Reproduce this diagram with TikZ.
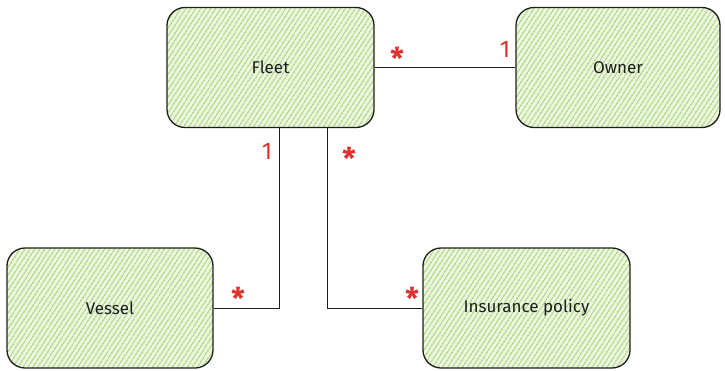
\documentclass[tikz,border=0pt]{standalone}
\usepackage{fontspec}
\setmainfont{Fira Sans}
\usetikzlibrary{patterns.meta}

\definecolor{hatchgreen}{HTML}{B9DD8E}
\definecolor{paleg}{HTML}{EDF6E1}
\definecolor{multred}{HTML}{E03131}
\definecolor{ink}{HTML}{1E1E1E}

\tikzset{
	entity/.style={draw=ink, line width=1.3pt, rounded corners=18pt,
		minimum height=120pt, text=ink, font=\fontsize{17}{19}\selectfont,
		preaction={fill=paleg},
		pattern={Lines[angle=57,distance=4pt,line width=1.6pt]}, pattern color=hatchgreen},
	multlabel/.style={text=multred, inner sep=0pt},
	star/.style={multlabel, font=\fontsize{30}{30}\selectfont\bfseries},
	one/.style={multlabel, font=\fontsize{24}{24}\selectfont},
	link/.style={draw=ink, line width=1pt}
}

\begin{document}
\begin{tikzpicture}[x=1pt, y=-1pt]
	\useasboundingbox (0,0) rectangle (725,370);
	
	% centres of the boxes
	\coordinate (F) at (270.5,67.5);
	\coordinate (O) at (618,67.5);
	\coordinate (V) at (110,308);
	\coordinate (I) at (526.5,308);
	
	% boxes
	\node[entity, minimum width=207pt] (fleet) at (F) {Fleet};
	\node[entity, minimum width=204pt] (owner) at (O) {Owner};
	\node[entity, minimum width=206pt] (vessel) at (V) {Vessel};
	\node[entity, minimum width=207pt] (insurance) at (I) {Insurance policy};
	
	% connectors
	\draw[link] (fleet.east) -- (owner.west);
	\draw[link] ([xshift=8.5pt]fleet.south) |- (vessel.east);
	\draw[link] ([xshift=56.5pt]fleet.south) |- (insurance.west);
	
	% multiplicities
	\node[star] (m1) at (397,58) {*};
	\node[one] (m2) at (505,49) {1};
	\node[one] (m3) at (267,151) {1};
	\node[star] (m4) at (349,158) {*};
	\node[star] (m5) at (238,298) {*};
	\node[star] (m6) at (412,298) {*};
\end{tikzpicture}
\end{document}
